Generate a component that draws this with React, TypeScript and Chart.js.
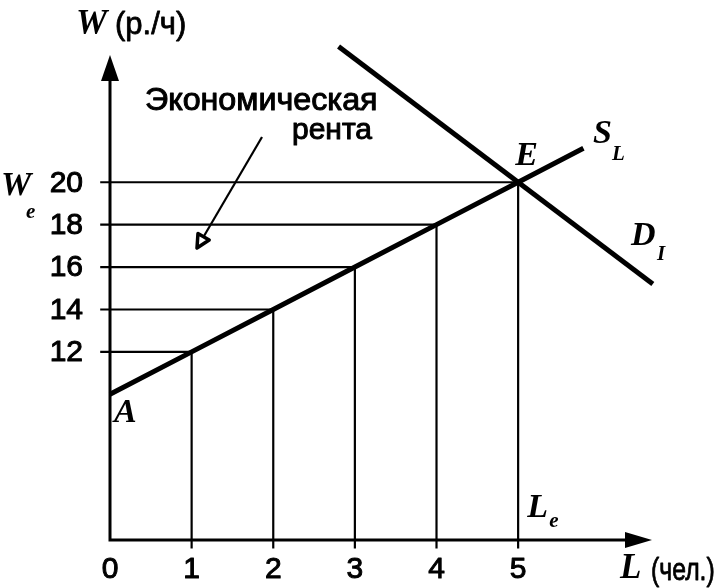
import React, { useEffect, useRef } from "react";
import { Chart, registerables } from "chart.js";
Chart.register(...registerables);

// Axis ticks
const laborTicks = [0, 1, 2, 3, 4, 5];
const wageTicks = [12, 14, 16, 18, 20];
// Supply of labour S_L: W = 10 + 2L
const supplyL = [0, 1, 2, 3, 4, 5, 5.8];
const supplyW = [10, 12, 14, 16, 18, 20, 21.6];
// Demand for labour D_L
const demandL = [2.8, 6.65];
const demandW = [26.4, 15.2];
// Guide lines (each worker's wage)
const guideL = [1, 2, 3, 4, 5];
const guideW = [12, 14, 16, 18, 20];

const X_MIN = 0;
const X_MAX = 6.64;
const Y_MIN = 3.13;
const Y_MAX = 26.0;

const SANS = '"Liberation Sans", Arial, sans-serif';
const SERIF = '"Liberation Serif", "Times New Roman", serif';

function heavyText(ctx: any, s: string, x: number, y: number, w = 0.9, sx = 1) {
  ctx.save();
  ctx.translate(x, y);
  ctx.scale(sx, 1);
  ctx.lineWidth = w;
  ctx.lineJoin = "round";
  ctx.fillText(s, 0, 0);
  ctx.strokeText(s, 0, 0);
  ctx.restore();
}

const drawPlugin = {
  id: "econDraw",
  afterDatasetsDraw(chart: any) {
    const ctx = chart.ctx;
    const xs = chart.scales.x;
    const ys = chart.scales.y;
    const px = (v: number) => xs.getPixelForValue(v);
    const py = (v: number) => ys.getPixelForValue(v);
    const x0 = px(X_MIN);
    const yb = py(Y_MIN);
    const xe = px(X_MAX);
    const yt = py(Y_MAX);
    ctx.save();
    ctx.strokeStyle = "#000";
    ctx.fillStyle = "#000";
    // axes
    ctx.lineWidth = 3;
    ctx.beginPath();
    ctx.moveTo(x0, yb);
    ctx.lineTo(x0, yt + 20);
    ctx.moveTo(x0 - 1.5, yb);
    ctx.lineTo(xe - 20, yb);
    ctx.stroke();
    // arrowheads
    ctx.beginPath();
    ctx.moveTo(x0, yt);
    ctx.lineTo(x0 - 9, yt + 26);
    ctx.lineTo(x0 + 9, yt + 26);
    ctx.closePath();
    ctx.fill();
    ctx.beginPath();
    ctx.moveTo(xe, yb);
    ctx.lineTo(xe - 27, yb - 8);
    ctx.lineTo(xe - 27, yb + 8);
    ctx.closePath();
    ctx.fill();

    // tick labels
    ctx.font = `30px ${SANS}`;
    ctx.textAlign = "center";
    ctx.textBaseline = "middle";
    laborTicks.forEach((v) => heavyText(ctx, String(v), px(v), yb + 30, 1));
    ctx.textAlign = "right";
    wageTicks.forEach((v) => heavyText(ctx, String(v), x0 - 27, py(v) + 1, 1));

    // annotation text
    ctx.textBaseline = "alphabetic";
    ctx.textAlign = "left";
    ctx.font = `31px ${SANS}`;
    heavyText(ctx, "Экономическая", 145, 110, 1, 1.04);
    ctx.textAlign = "right";
    ctx.font = `30px ${SANS}`;
    heavyText(ctx, "рента", 372, 139, 1);
    ctx.textAlign = "left";

    // annotation arrow
    const sx = 262, sy = 137, tx = 197, ty = 248;
    const len = Math.hypot(tx - sx, ty - sy);
    const ux = (tx - sx) / len, uy = (ty - sy) / len;
    const bx = tx - 13 * ux, by = ty - 13 * uy;
    ctx.lineWidth = 2.2;
    ctx.beginPath();
    ctx.moveTo(sx, sy);
    ctx.lineTo(bx, by);
    ctx.stroke();
    ctx.lineWidth = 3.5;
    ctx.lineJoin = "round";
    ctx.beginPath();
    ctx.moveTo(tx, ty);
    ctx.lineTo(bx - 6.5 * uy, by + 6.5 * ux);
    ctx.lineTo(bx + 6.5 * uy, by - 6.5 * ux);
    ctx.closePath();
    ctx.fillStyle = "#fff";
    ctx.fill();
    ctx.stroke();
    ctx.fillStyle = "#000";

    // axis titles
    ctx.font = `bold italic 35px ${SERIF}`;
    ctx.fillText("W", 76, 34);
    ctx.font = `31px ${SANS}`;
    heavyText(ctx, "(р./ч)", 115, 34, 0.8);
    ctx.font = `bold italic 35px ${SERIF}`;
    ctx.fillText("L", 620, 578);
    ctx.font = `31px ${SANS}`;
    heavyText(ctx, "(чел.)", 651, 580, 0.8, 0.8);

    // point labels
    const ex = px(5), ey = py(20);
    ctx.font = `bold italic 34px ${SERIF}`;
    ctx.fillText("E", ex - 3, ey - 17);
    ctx.fillText("A", x0 + 4, py(10) + 28);
    ctx.fillText("S", 593, 143);
    ctx.fillText("D", 631, 245);
    ctx.fillText("L", ex + 9, yb - 23);
    ctx.fillText("W", 1, py(20) + 13);
    ctx.font = `bold italic 21px ${SERIF}`;
    ctx.fillText("L", 612, 160);
    ctx.fillText("I", 657, 260);
    ctx.fillText("e", ex + 31, yb - 13);
    ctx.fillText("e", 26, py(20) + 36);
    ctx.restore();
  },
};

export default function App() {
  const ref = useRef<HTMLCanvasElement | null>(null);
  useEffect(() => {
    if (!ref.current) return;
    const line = (pts: { x: number; y: number }[], w: number) => ({
      data: pts,
      showLine: true,
      borderColor: "#000",
      backgroundColor: "#000",
      borderWidth: w,
      pointRadius: 0,
      clip: false as const,
      tension: 0,
    });
    const datasets: any[] = [
      line(supplyL.map((l, i) => ({ x: l, y: supplyW[i] })), 5),
      line(demandL.map((l, i) => ({ x: l, y: demandW[i] })), 5),
    ];
    guideL.forEach((l, i) => {
      datasets.push(line([{ x: X_MIN - 0.12, y: guideW[i] }, { x: l, y: guideW[i] }], 2.2));
      datasets.push(line([{ x: l, y: Y_MIN - 0.4 }, { x: l, y: guideW[i] }], 2.2));
    });
    const chart = new Chart(ref.current, {
      type: "scatter",
      data: { datasets },
      options: {
        animation: false,
        responsive: false,
        layout: { padding: { left: 110, top: 55, right: 67, bottom: 48 } },
        plugins: { legend: { display: false }, tooltip: { enabled: false } },
        scales: {
          x: { type: "linear", min: X_MIN, max: X_MAX, display: false },
          y: { type: "linear", min: Y_MIN, max: Y_MAX, display: false },
        },
      },
      plugins: [drawPlugin],
    });
    return () => chart.destroy();
  }, []);
  return (
    <div style={{ position: "fixed", left: 0, top: 0, width: 719, height: 588, background: "#fff" }}>
      <canvas ref={ref} width={719} height={588} style={{ display: "block" }} />
    </div>
  );
}
